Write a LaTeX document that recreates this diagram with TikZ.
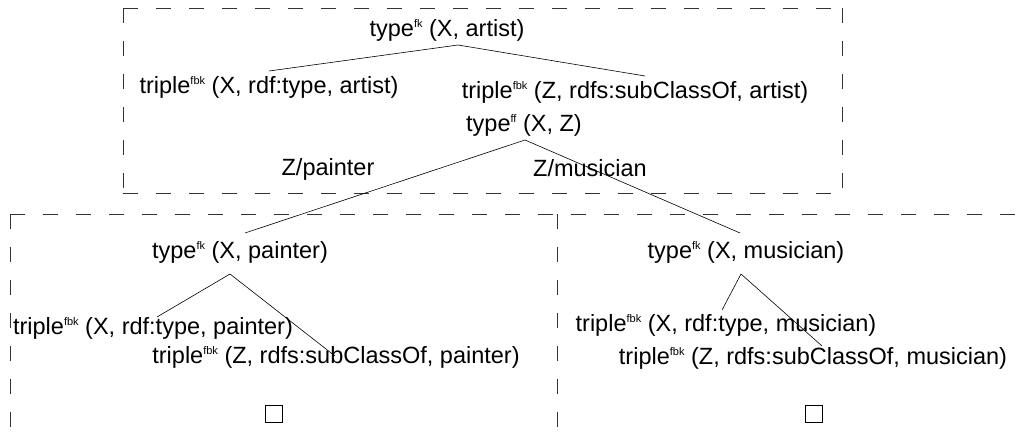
\documentclass[tikz,border=0pt]{standalone}
\usepackage{fontspec}
\setmainfont{Liberation Sans}
\newcommand\upmark[1]{\raisebox{0.7ex}{\fontsize{11}{11}\selectfont #1}}
\tikzset{
  lbl/.style={inner sep=0pt, font=\fontsize{23.5}{26}\selectfont},
  frame/.style={line width=0.6pt, dash pattern=on 15pt off 18pt, draw=black!80},
  edge/.style={line width=0.6pt},
  qed/.style={draw, line width=0.6pt, minimum size=17pt, inner sep=0pt}
}
\begin{document}
\begin{tikzpicture}[x=1pt,y=-1pt]
\useasboundingbox (0,0) rectangle (1027,441);
% frames
\draw[frame] (123,8) -- (842,8);
\draw[frame] (123,8) -- (123,193);
\draw[frame] (123,193) -- (842,193);
\draw[frame] (842,8) -- (842,193);
\draw[frame] (10,214) -- (1027,214);
\draw[frame] (10,214) -- (10,441);
\draw[frame] (557,214) -- (557,441);
% nodes
\node[lbl] (top) at (447,30) {type\upmark{fk} (X, artist)};
\node[lbl] (ta) at (269,87) {triple\upmark{fbk} (X, rdf:type, artist)};
\node[lbl] (tb) at (635,92) {triple\upmark{fbk} (Z, rdfs:subClassOf, artist)};
\node[lbl] (tff) at (524,125) {type\upmark{ff} (X, Z)};
\node[lbl] (zp) at (328,169) {Z/painter};
\node[lbl] (zm) at (590,168) {Z/musician};
\node[lbl] (tp) at (240,252) {type\upmark{fk} (X, painter)};
\node[lbl] (tp1) at (153,328) {triple\upmark{fbk} (X, rdf:type, painter)};
\node[lbl] (tp2) at (336,357) {triple\upmark{fbk} (Z, rdfs:subClassOf, painter)};
\node[qed] (bp) at (274,414) {};
\node[lbl] (tm) at (746,252) {type\upmark{fk} (X, musician)};
\node[lbl] (tm1) at (726,325) {triple\upmark{fbk} (X, rdf:type, musician)};
\node[lbl] (tm2) at (813,358) {triple\upmark{fbk} (Z, rdfs:subClassOf, musician)};
\node[qed] (bm) at (814,414) {};
% connector points
\coordinate (topj) at (458,45);
\coordinate (taj) at (269,71);
\coordinate (tbj) at (645,76);
\coordinate (tffj) at (525,140);
\coordinate (tpt) at (245,233);
\coordinate (tmt) at (740,233);
\coordinate (tpj) at (230,274);
\coordinate (tp1j) at (157,317);
\coordinate (tp2j) at (335,356);
\coordinate (tmj) at (741,274);
\coordinate (tm1j) at (722,310);
\coordinate (tm2j) at (822,346);
\draw[edge] (topj) -- (taj);
\draw[edge] (topj) -- (tbj);
\draw[edge] (tffj) -- (tpt);
\draw[edge] (tffj) -- (tmt);
\draw[edge] (tpj) -- (tp1j);
\draw[edge] (tpj) -- (tp2j);
\draw[edge] (tmj) -- (tm1j);
\draw[edge] (tmj) -- (tm2j);
\end{tikzpicture}
\end{document}
